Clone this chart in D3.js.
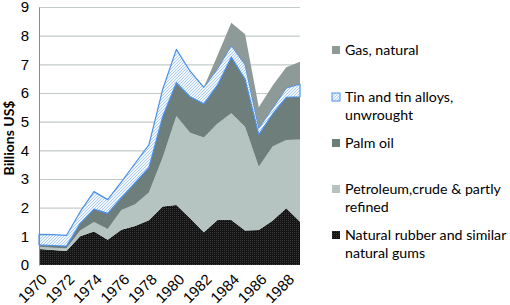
<!DOCTYPE html>
<html lang="en">
<head>
<meta charset="UTF-8">
<title>Exports by commodity</title>
<script src="https://d3js.org/d3.v7.min.js"></script>
<style>
    body { margin: 0; background: #fff; }
    svg { font-family: Lato, "Open Sans", sans-serif; }
    .grid line { stroke: #c3cbca; stroke-width: 1.2; }
    .grid path { display: none; }
    .tick text { fill: #000; }
</style>
</head>
<body>
<div id="chart"></div>
<script>
    // years on the category axis
    var years = [1970, 1971, 1972, 1973, 1974, 1975, 1976, 1977, 1978, 1979,
                 1980, 1981, 1982, 1983, 1984, 1985, 1986, 1987, 1988, 1989];
    var yearLabels = [1970, 1972, 1974, 1976, 1978, 1980, 1982, 1984, 1986, 1988];
    var yTicks = [0, 1, 2, 3, 4, 5, 6, 7, 8, 9];

    // series values, billions US$ (stacked bottom to top)
    var rubber    = [0.56, 0.52, 0.49, 1.00, 1.17, 0.88, 1.23, 1.36, 1.56, 2.04,
                     2.09, 1.63, 1.14, 1.57, 1.57, 1.20, 1.22, 1.54, 1.98, 1.51];
    var petroleum = [0.08, 0.08, 0.09, 0.20, 0.33, 0.38, 0.69, 0.76, 0.97, 1.71,
                     3.11, 2.98, 3.31, 3.37, 3.72, 3.62, 2.21, 2.59, 2.38, 2.87];
    var palmOil   = [0.06, 0.08, 0.08, 0.25, 0.45, 0.54, 0.43, 0.75, 0.87, 1.42,
                     1.16, 1.26, 1.17, 1.34, 1.96, 1.66, 1.12, 1.13, 1.49, 1.49];
    var tin       = [0.37, 0.38, 0.37, 0.41, 0.61, 0.48, 0.55, 0.68, 0.79, 0.95,
                     1.16, 0.89, 0.58, 0.58, 0.41, 0.52, 0.23, 0.21, 0.33, 0.44];
    var gas       = [0, 0, 0, 0, 0, 0, 0, 0, 0, 0,
                     0, 0, 0, 0.46, 0.79, 1.05, 0.72, 0.78, 0.72, 0.78];

    var keys = ["rubber", "petroleum", "palm", "tin", "gas"];
    var legendNames = {
        gas: ["Gas, natural"],
        tin: ["Tin and tin alloys,", "unwrought"],
        palm: ["Palm oil"],
        petroleum: ["Petroleum,crude & partly", "refined"],
        rubber: ["Natural rubber and similar", "natural gums"]
    };

    var rows = years.map(function (y, i) {
        return { year: y, rubber: rubber[i], petroleum: petroleum[i],
                 palm: palmOil[i], tin: tin[i], gas: gas[i] };
    });

    var width = 510, height = 305;
    var svg = d3.select("#chart").append("svg")
        .attr("width", width)
        .attr("height", height);

    // patterns for the dotted black and the hatched tin fill
    var defs = svg.append("defs");
    var dots = defs.append("pattern").attr("id", "dots")
        .attr("patternUnits", "userSpaceOnUse").attr("width", 2).attr("height", 2);
    dots.append("rect").attr("width", 2).attr("height", 2).attr("fill", "#141414");
    dots.append("rect").attr("width", 1).attr("height", 1).attr("fill", "#3a3a3a");
    var hatch = defs.append("pattern").attr("id", "hatch")
        .attr("patternUnits", "userSpaceOnUse").attr("width", 3).attr("height", 3);
    hatch.append("rect").attr("width", 3).attr("height", 3).attr("fill", "#f1f7fd");
    hatch.append("path").attr("d", "M-1,1 l2,-2 M0,3 l3,-3 M2,4 l2,-2")
        .attr("stroke", "#a3c8f1").attr("stroke-width", 0.9);

    var fills = {
        rubber: "url(#dots)",
        petroleum: "#b5c3c1",
        palm: "#6e7e7a",
        tin: "url(#hatch)",
        gas: "#8d9a97"
    };

    var x = d3.scalePoint().domain(years).range([39, 300]);
    var y = d3.scaleLinear().domain([0, 9]).range([265, 7]);

    // gridlines
    svg.append("g")
        .attr("class", "grid")
        .attr("transform", "translate(39,0)")
        .call(d3.axisLeft(y).tickValues(yTicks.slice(1)).tickSize(-261).tickFormat(""));

    var series = d3.stack().keys(keys)(rows);

    var area = d3.area()
        .x(function (d) { return x(d.data.year); })
        .y0(function (d) { return y(d[0]); })
        .y1(function (d) { return y(d[1]); });

    svg.append("g").selectAll("path")
        .data(series)
        .join("path")
        .attr("d", area)
        .attr("fill", function (d) { return fills[d.key]; })
        .attr("stroke", function (d) { return d.key == "tin" ? "#4a8fe8" : "none"; })
        .attr("stroke-width", 1.2)
        .attr("stroke-linejoin", "round");

    // y axis
    var yAxis = svg.append("g")
        .attr("transform", "translate(39,0)")
        .call(d3.axisLeft(y).tickValues(yTicks).tickSize(0).tickPadding(10));
    yAxis.select(".domain").attr("stroke", "#8a8a8a");
    yAxis.selectAll("text").attr("font-size", 15);

    svg.append("text")
        .attr("transform", "translate(14,138) rotate(-90)")
        .attr("text-anchor", "middle")
        .attr("font-size", 14)
        .attr("font-weight", "bold")
        .text("Billions US$");

    // x axis labels
    var xAxis = svg.append("g")
        .attr("transform", "translate(0,265)")
        .call(d3.axisBottom(x).tickValues(yearLabels).tickSize(0).tickFormat(d3.format("d")));
    xAxis.select(".domain").remove();
    xAxis.selectAll("text")
        .attr("font-size", 15)
        .attr("text-anchor", "end")
        .attr("x", 0).attr("y", 0).attr("dy", "0.7em")
        .attr("transform", "translate(1,8) rotate(-45)");

    // legend
    var legendTop = { gas: 50, tin: 97, palm: 143, petroleum: 189, rubber: 235 };
    var legend = svg.append("g");
    keys.slice().reverse().forEach(function (k) {
        var g = legend.append("g").attr("transform", "translate(332," + legendTop[k] + ")");
        g.append("rect").attr("x", 0).attr("y", -4).attr("width", 8).attr("height", 8)
            .attr("fill", fills[k])
            .attr("stroke", k == "tin" ? "#4a8fe8" : "none");
        g.selectAll("text").data(legendNames[k]).join("text")
            .attr("x", 13)
            .attr("y", function (d, i) { return i * 18; })
            .attr("dy", "0.35em")
            .attr("font-size", 14.2)
            .text(function (d) { return d; });
    });
</script>
</body>
</html>
